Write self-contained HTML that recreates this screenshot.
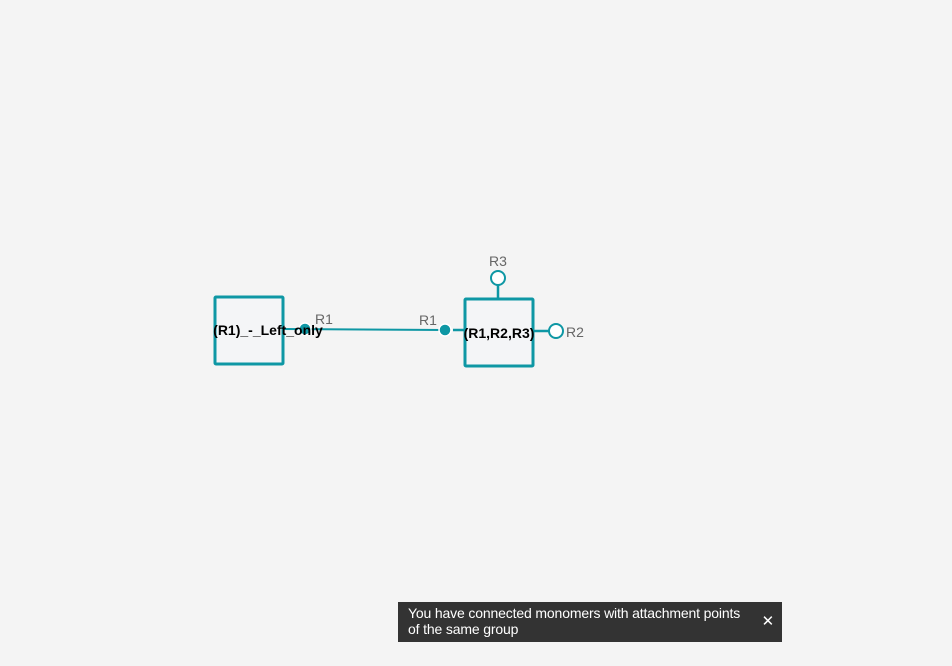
<!DOCTYPE html>
<html><head><style>
html,body{margin:0;padding:0;background:#f4f4f4;width:952px;height:666px;overflow:hidden;font-family:"Liberation Sans",sans-serif}
.toast{position:absolute;left:398px;top:602px;width:384px;height:40px;background:#333;color:#fff;font-size:14px;letter-spacing:-0.15px;line-height:16px;box-sizing:border-box;padding:3px 10px}
.x{position:absolute;right:8px;top:12px;font-size:15px;line-height:16px;font-weight:lighter}
</style></head><body>
<svg width="952" height="666" style="position:absolute;left:0;top:0">
<g stroke="#0e97a4" fill="none">
<line x1="283" y1="329" x2="445" y2="330" stroke-width="2"/>
<line x1="453" y1="330" x2="465" y2="330" stroke-width="2.5"/>
<line x1="498" y1="285" x2="498" y2="299" stroke-width="2.5"/>
<line x1="533" y1="331" x2="549" y2="331" stroke-width="2.5"/>
<rect x="215" y="297" width="68" height="67" fill="#f4f5f7" stroke-width="3" rx="1"/>
<rect x="465" y="299" width="68" height="67" fill="#f4f5f7" stroke-width="3" rx="1"/>
<circle cx="305" cy="329" r="6" fill="#0e97a4" stroke="#fff" stroke-width="1.5"/>
<circle cx="445" cy="330" r="6" fill="#0e97a4" stroke="#fff" stroke-width="1.5"/>
<circle cx="498" cy="278" r="7" fill="#fff" stroke-width="2"/>
<circle cx="556" cy="331" r="7" fill="#fff" stroke-width="2"/>
</g>
<g font-family="Liberation Sans, sans-serif" font-size="14">
<text x="268" y="335" text-anchor="middle" font-weight="bold" font-size="14" fill="#000">(R1)_-_Left_only</text>
<text x="499" y="338" text-anchor="middle" font-weight="bold" font-size="14" fill="#000">(R1,R2,R3)</text>
<text x="315" y="324" fill="#666">R1</text>
<text x="419" y="325" fill="#666">R1</text>
<text x="489" y="266" fill="#666">R3</text>
<text x="566" y="337" fill="#666">R2</text>
</g>
</svg>
<div class="toast">You have connected monomers with attachment points<br>of the same group<span class="x">✕</span></div>
</body></html>
